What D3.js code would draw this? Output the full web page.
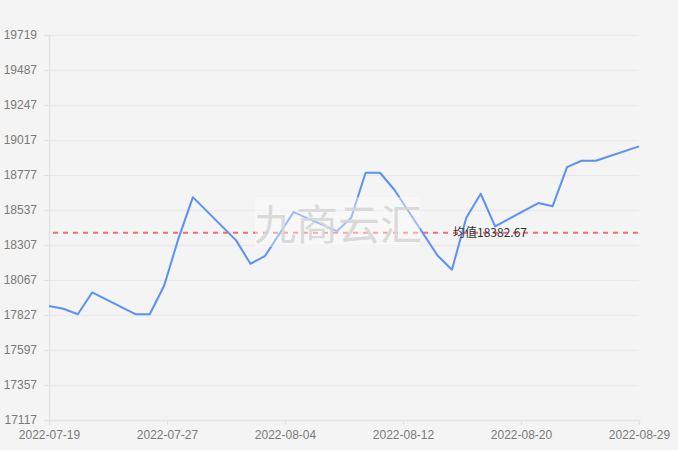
<!DOCTYPE html>
<html>
<head>
<meta charset="utf-8">
<script src="https://cdn.jsdelivr.net/npm/d3@7/dist/d3.min.js"></script>
<style>
html,body{margin:0;padding:0;background:#f4f4f4;}
svg{display:block;font-family:"Noto Sans","Noto Sans CJK SC",sans-serif;}
</style>
</head>
<body>
<svg id="chart" width="678" height="450"></svg>
<script>
const dates = ["2022-07-19","2022-07-20","2022-07-21","2022-07-22","2022-07-25","2022-07-26","2022-07-27","2022-07-28","2022-07-29",
  "2022-08-01","2022-08-02","2022-08-03","2022-08-04","2022-08-05","2022-08-08","2022-08-09","2022-08-10","2022-08-11","2022-08-12",
  "2022-08-15","2022-08-16","2022-08-17","2022-08-18","2022-08-19","2022-08-22","2022-08-23","2022-08-24","2022-08-25","2022-08-26","2022-08-29"];
const prices = [17887,17869,17832,17979,17832,17832,18024,18345,18623,
  18331,18173,18224,18373,18522,18393,18484,18788,18788,18673,
  18229,18133,18484,18646,18425,18583,18562,18826,18869,18869,18966];
const yTickLabels = ["17117","17357","17597","17827","18067","18307","18537","18777","19017","19247","19487","19719"];
const yMin = 17117, yMax = 19719;
const xStart = "2022-07-19", xEnd = "2022-08-29";
const averageValue = 18382.67;
const averageLabel = "均值18382.67";
const watermark = "九商云汇";

const svg = d3.select("#chart");
const mLeft = 49, mRight = 639, mTop = 35, mBottom = 420;
const parse = d3.utcParse("%Y-%m-%d");
const fmt = d3.utcFormat("%Y-%m-%d");
const x = d3.scaleUtc().domain([parse(xStart), parse(xEnd)]).range([mLeft, mRight]);
const y = d3.scaleLinear().domain([yMin, yMax]).range([mBottom, mTop]);

// grid
const nY = yTickLabels.length - 1;
const yTickVals = d3.range(nY + 1).map(i => yMin + (yMax - yMin) * i / nY);
svg.append("g").selectAll("line").data(yTickVals.slice(1)).join("line")
  .attr("x1", mLeft + 1).attr("x2", mRight)
  .attr("y1", d => Math.round(y(d)) + 0.5).attr("y2", d => Math.round(y(d)) + 0.5)
  .attr("stroke", "#e9e9e9").attr("stroke-width", 1.5);

// y axis
const yAxis = d3.axisLeft(y).tickValues(yTickVals).tickSize(5).tickPadding(7)
  .tickFormat((d, i) => yTickLabels[i]);
const gy = svg.append("g").attr("transform", `translate(${mLeft},0)`).call(yAxis);
gy.select(".domain").attr("stroke", "#e3e3e3").attr("stroke-width", 1.5);
gy.selectAll(".tick line").attr("stroke", "#e3e3e3");
gy.selectAll(".tick text").attr("fill", "#7a7a7a").style("font-size", "12px");

// x axis: evenly split time domain into 5
const t0 = parse(xStart).getTime(), t1 = parse(xEnd).getTime();
const xTickVals = d3.range(6).map(i => new Date(t0 + (t1 - t0) * i / 5));
const xAxis = d3.axisBottom(x).tickValues(xTickVals).tickSize(5).tickPadding(5)
  .tickFormat(d => fmt(d));
const gx = svg.append("g").attr("transform", `translate(0,${mBottom})`).call(xAxis);
gx.select(".domain").attr("stroke", "#e3e3e3").attr("stroke-width", 1.5);
gx.selectAll(".tick line").attr("stroke", "#e3e3e3");
gx.selectAll(".tick text").attr("fill", "#7a7a7a").style("font-size", "12px");

// data line
const data = dates.map((d, i) => ({ date: parse(d), v: prices[i] }));
svg.append("path").datum(data)
  .attr("fill", "none").attr("stroke", "#5b8ff9").attr("stroke-width", 2)
  .attr("stroke-linejoin", "round")
  .attr("d", d3.line().x(d => x(d.date)).y(d => y(d.v)));

// average dashed line
svg.append("line")
  .attr("x1", mLeft + 4).attr("x2", mRight)
  .attr("y1", y(averageValue)).attr("y2", y(averageValue))
  .attr("stroke", "#f76b6b").attr("stroke-width", 2).attr("stroke-dasharray", "5,5");

// watermark
svg.append("rect").attr("x", 255).attr("y", 197).attr("width", 165).attr("height", 50)
  .attr("fill", "#ffffff").attr("fill-opacity", 0.4);
svg.append("text").attr("x", 338).attr("y", 240).attr("text-anchor", "middle")
  .attr("fill", "#d6d6d6").attr("fill-opacity", 0.9)
  .style("font-size", "42px").style("font-family", "'Noto Sans CJK SC',sans-serif")
  .text(watermark);

// average label
svg.append("text").attr("x", 453).attr("y", y(averageValue)).attr("dy", "0.35em")
  .attr("fill", "#333").style("font-size", "12px")
  .style("font-family", "'Noto Sans CJK SC','Noto Sans',sans-serif")
  .text(averageLabel);
</script>
</body>
</html>
